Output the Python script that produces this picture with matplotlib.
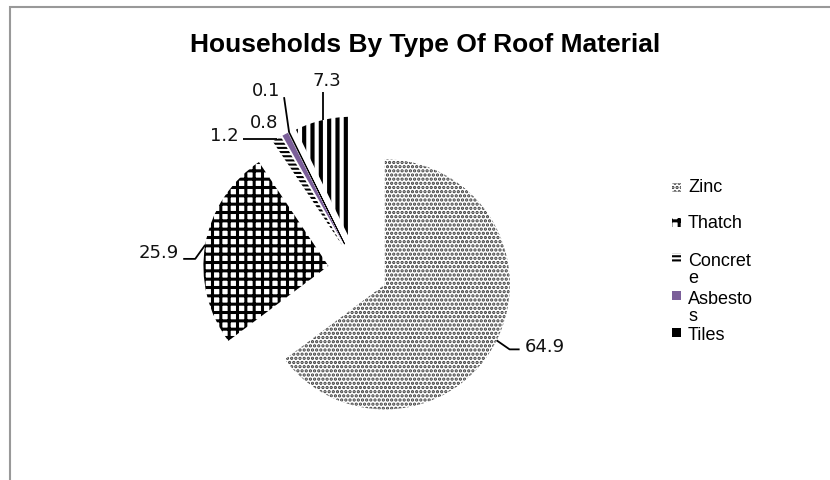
import matplotlib
matplotlib.use("Agg")
import matplotlib.pyplot as plt
from matplotlib.patches import Rectangle
import numpy as np

# data
categories = ["Zinc", "Thatch", "Concrete", "Asbestos", "Other", "Tiles"]
values = [64.9, 25.9, 1.2, 0.8, 0.1, 7.3]
value_labels = ["64.9", "25.9", "1.2", "0.8", "0.1", "7.3"]
legend_labels = ["Zinc", "Thatch", "Concret\ne", "Asbesto\ns", "Tiles"]
legend_index = [0, 1, 2, 3, 5]   # the 0.1 slice has no legend entry
title = "Households By Type Of Roof Material"

# styles
faces = ["white", "white", "white", "#7b5f99", "white", "white"]
edges = ["#3a3a3a", "black", "black", "#7b5f99", "black", "black"]
hatches = ["....", "++", "----", "", "", "||"]
hatch_lw = [1.6, 2.2, 1.5, 1.0, 1.0, 3.0]
legend_faces = ["white", "white", "white", "#7b5f99", "black"]

W, H = 830, 481
fig = plt.figure(figsize=(W / 100, H / 100), dpi=100)
ax = fig.add_axes([0, 0, 1, 1])

wedges, _ = ax.pie(values, startangle=90, counterclock=False,
                   center=(358, H - 272), radius=125,
                   explode=[30] * len(values), normalize=True)
ax.set_xlim(0, W)
ax.set_ylim(0, H)
ax.axis("off")

for i, w in enumerate(wedges):
    w.set_facecolor(faces[i])
    w.set_edgecolor(edges[i])
    w.set_hatch(hatches[i])
    w.set_linewidth(0.6 if i == 4 else 0)
    if hasattr(w, "set_hatch_linewidth"):
        w.set_hatch_linewidth(hatch_lw[i])
    else:
        plt.rcParams["hatch.linewidth"] = 2.0

# label leaders, offsets in pixels (x right, y down) from the arc midpoint
leaders = [[(13, 9), (23, 9)],
           [(-10, 14), (-22, 14)],
           [(-34, 0)],
           [],
           [(-5, -35)],
           [(0, -28)]]
text_off = [(28, 6, "left"), (-26, 7, "right"), (-38, -4, "right"),
            (-21, -12, "center"), (-23, -42, "center"), (4, -40, "center")]

for i, w in enumerate(wedges):
    tm = np.deg2rad((w.theta1 + w.theta2) / 2)
    px = w.center[0] + w.r * np.cos(tm)
    py = w.center[1] + w.r * np.sin(tm)
    xs = [px] + [px + dx for dx, dy in leaders[i]]
    ys = [py] + [py - dy for dx, dy in leaders[i]]
    if len(xs) > 1:
        ax.plot(xs, ys, color="black", lw=1.3, solid_capstyle="butt")
    dx, dy, ha = text_off[i]
    ax.text(px + dx, py - dy, value_labels[i], ha=ha, va="center",
            fontsize=13, family="DejaVu Sans", color="#111111")

# legend drawn by hand to copy the squeezed wrapped entries
marker_y = [188, 223, 258, 296, 333]
text_y = [188, 223, 270, 308, 336]
for k, idx in enumerate(legend_index):
    r = Rectangle((672, H - marker_y[k] - 4.5), 9, 9,
                  facecolor=legend_faces[k], edgecolor=edges[idx],
                  hatch=hatches[idx] if k < 3 else "", lw=0)
    if hasattr(r, "set_hatch_linewidth"):
        r.set_hatch_linewidth(hatch_lw[idx])
    ax.add_patch(r)
    ax.text(688, H - text_y[k], legend_labels[k], ha="left", va="center",
            fontsize=13, family="Liberation Sans", linespacing=1.0)

ax.text(425, H - 45, title, ha="center", va="center", fontsize=19,
        fontweight="bold", family="Liberation Sans")

# chart area border (only left and top are visible)
ax.add_patch(Rectangle((10, -20), 900, H - 8 + 20, fill=False,
                       edgecolor="#999999", lw=1.5, clip_on=False))

fig.savefig("out.png", dpi=100)
